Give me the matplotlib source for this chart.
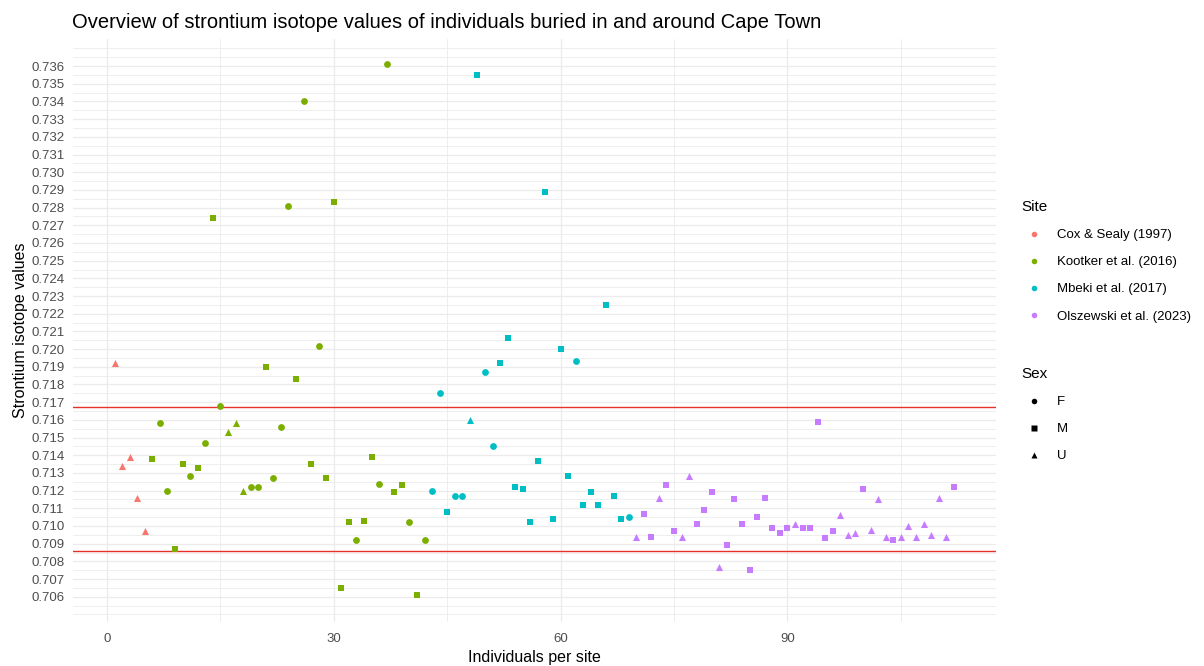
import numpy as np
import matplotlib
matplotlib.use("Agg")
import matplotlib.pyplot as plt
from matplotlib.lines import Line2D

plt.rcParams['font.family'] = ['Liberation Sans', 'DejaVu Sans']

# strontium values, one list per site, in plotting order
sites = ['Cox & Sealy (1997)', 'Kootker et al. (2016)', 'Mbeki et al. (2017)', 'Olszewski et al. (2023)']
site_colors = ['#F8766D', '#7CAE00', '#00BFC4', '#C77CFF']

cox_sr = [0.7192, 0.7134, 0.7139, 0.7116, 0.7097]
cox_sex = 'UUUUU'

kootker_sr = [0.7138, 0.7158, 0.7120, 0.7087, 0.7135, 0.7128, 0.7133, 0.7147, 0.7274, 0.7168,
              0.7153, 0.7158, 0.7120, 0.7122, 0.7122, 0.7190, 0.7127, 0.7156, 0.7281, 0.7183,
              0.7340, 0.7135, 0.7202, 0.7127, 0.7283, 0.7065, 0.7102, 0.7092, 0.7103, 0.7139,
              0.7124, 0.7361, 0.7119, 0.7123, 0.7102, 0.7061, 0.7092]
kootker_sex = 'MFFMMFMFMFUUUFFMFFFMFMFMMMMFMMFFMMFMF'

mbeki_sr = [0.7120, 0.7175, 0.7108, 0.7117, 0.7117, 0.7160, 0.7355, 0.7187, 0.7145, 0.7192,
            0.7206, 0.7122, 0.7121, 0.7102, 0.7137, 0.7289, 0.7104, 0.7200, 0.7128, 0.7193,
            0.7112, 0.7119, 0.7112, 0.7225, 0.7117, 0.7104, 0.7105]
mbeki_sex = 'FFMFFUMFFMMMMMMMMMMFMMMMMMF'

olszewski_sr = [0.7094, 0.7107, 0.7094, 0.7116, 0.7123, 0.7097, 0.7094, 0.7128, 0.7101, 0.7109,
                0.7119, 0.7077, 0.7089, 0.7115, 0.7101, 0.7075, 0.7105, 0.7116, 0.7099, 0.7096,
                0.7099, 0.7101, 0.7099, 0.7099, 0.7159, 0.7093, 0.7097, 0.7106, 0.7095, 0.7096,
                0.7121, 0.7098, 0.7115, 0.7094, 0.7092, 0.7094, 0.7100, 0.7094, 0.7101, 0.7095,
                0.7116, 0.7094, 0.7122]
olszewski_sex = 'UMMUMMUUMMMUMMMMMMMMMUMMMMMUUUMUUUMUUUUUUUM'

# baseline range lines
baseline_low = 0.7086
baseline_high = 0.7167

sex_levels = ['F', 'M', 'U']
sex_markers = {'F': ('o', 24), 'M': ('s', 18), 'U': ('^', 26)}

site_sr = [cox_sr, kootker_sr, mbeki_sr, olszewski_sr]
site_sex = [cox_sex, kootker_sex, mbeki_sex, olszewski_sex]

fig = plt.figure(figsize=(12.04, 6.66), dpi=100)
ax = fig.add_axes([72.6 / 1204, 1 - 622.2 / 666, 923.1 / 1204, 583.7 / 666])

start = 1
for name, col, sr, sex in zip(sites, site_colors, site_sr, site_sex):
    sr = np.array(sr)
    sex = np.array(list(sex))
    idx = np.arange(start, start + len(sr))
    for s in sex_levels:
        m = sex == s
        ax.scatter(idx[m], sr[m], color=col, marker=sex_markers[s][0],
                   s=sex_markers[s][1], linewidths=0, zorder=3)
    start += len(sr)

ax.axhline(baseline_low, color='#E8302A', lw=1.0, zorder=2)
ax.axhline(baseline_high, color='#E8302A', lw=1.0, zorder=2)

ax.set_xlim(-4.55, 117.55)
ax.set_ylim(0.70456, 0.73756)
ax.set_xticks([0, 30, 60, 90])
ax.set_xticks([15, 45, 75, 105], minor=True)
yt = np.round(np.arange(0.706, 0.7365, 0.001), 3)
ax.set_yticks(yt)
ax.set_yticklabels([f'{v:.3f}' for v in yt])
ax.set_yticks(np.round(np.arange(0.705, 0.7371, 0.0005), 4), minor=True)

ax.grid(True, which='major', color='#EBEBEB', lw=0.9)
ax.grid(True, which='minor', color='#EBEBEB', lw=0.6)
ax.set_axisbelow(True)
for sp in ax.spines.values():
    sp.set_visible(False)
ax.tick_params(which='both', length=0)
ax.tick_params(axis='y', labelsize=9.5, labelcolor='#4D4D4D', pad=6)
ax.tick_params(axis='x', labelsize=9.5, labelcolor='#4D4D4D', pad=7.5)

ax.set_xlabel('Individuals per site', fontsize=11.5, labelpad=4)
ax.set_ylabel('Strontium isotope values', fontsize=11.5, labelpad=2)
fig.text(71.7 / 1204, 1 - 28.3 / 666, 'Overview of strontium isotope values of individuals buried in and around Cape Town',
         fontsize=14.5, va='baseline', ha='left')

site_handles = [Line2D([], [], ls='none', marker='o', ms=4, color=c, mec='none') for c in site_colors]
leg1 = fig.legend(site_handles, sites, title='Site', loc='upper left',
                  bbox_to_anchor=(1021 / 1204, 1 - 200 / 666), frameon=False,
                  fontsize=9.5, title_fontsize=11, alignment='left', borderpad=0,
                  handlelength=2.0, handletextpad=0.7, labelspacing=1.13, borderaxespad=0)
sex_handles = [Line2D([], [], ls='none', marker=sex_markers[s][0], ms=4, color='black', mec='none')
               for s in sex_levels]
leg2 = fig.legend(sex_handles, sex_levels, title='Sex', loc='upper left',
                  bbox_to_anchor=(1021 / 1204, 1 - 367 / 666), frameon=False,
                  fontsize=9.5, title_fontsize=11, alignment='left', borderpad=0,
                  handlelength=2.0, handletextpad=0.7, labelspacing=1.13, borderaxespad=0)

fig.savefig('out.png', dpi=100)
